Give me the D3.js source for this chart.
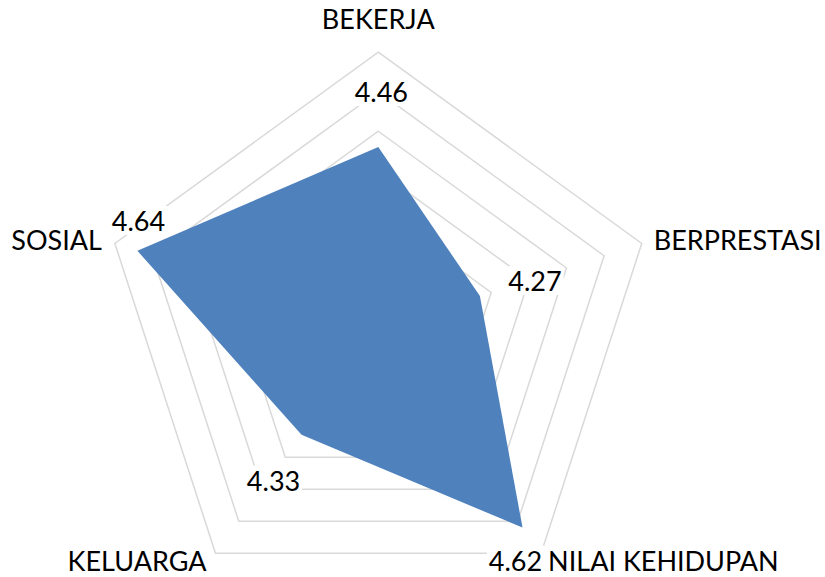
<!DOCTYPE html>
<html>
<head>
<meta charset="utf-8">
<script src="https://cdn.jsdelivr.net/npm/d3@7"></script>
<style>
  body { margin: 0; background: #fff; }
  text { font-family: Lato, "Open Sans", sans-serif; fill: #000; }
</style>
</head>
<body>
<div id="chart"></div>
<script>
// data
const categories = ['BEKERJA', 'BERPRESTASI', 'NILAI KEHIDUPAN', 'KELUARGA', 'SOSIAL'];
const values = [4.46, 4.27, 4.62, 4.33, 4.64];
const axisMin = 4.0;
const axisMax = 4.7;
const axisStep = 0.1;

// layout
const width = 825, height = 577;
const cx = 378.3, cy = 329.1, R = 277;
const fontSize = 27;
// per-label nudges (px) relative to the point they belong to
const valueLabelOffsets = [[3, -45], [55, -5], [-7, 43], [-28, 56], [1, -20]];
const catLabelOffsets = [[0, -23, 'middle'], [12, 6, 'start'], [7, 17.5, 'start'], [-9, 17.5, 'end'], [-13, 6.5, 'end']];

const svg = d3.select('#chart')
    .append('svg')
    .attr('width', width)
    .attr('height', height);

svg.append('rect').attr('width', width).attr('height', height).attr('fill', '#fff');

const g = svg.append('g').attr('transform', `translate(${cx},${cy})`);

const r = d3.scaleLinear().domain([axisMin, axisMax]).range([0, R]);
const angle = d3.scaleLinear().domain([0, categories.length]).range([0, 2 * Math.PI]);

const pt = (i, v) => {
    const a = angle(i);
    return [r(v) * Math.sin(a), -r(v) * Math.cos(a)];
};

// grid rings
const ringValues = d3.range(axisMin + axisStep, axisMax + axisStep / 2, axisStep);
const ringLine = d3.line();
g.selectAll('.ring')
    .data(ringValues)
    .enter()
    .append('path')
    .attr('class', 'ring')
    .attr('d', v => ringLine(categories.map((c, i) => pt(i, v))) + 'Z')
    .style('fill', 'none')
    .style('stroke', '#d9d9d9')
    .style('stroke-width', 1.5);

// series area
g.append('path')
    .datum(values)
    .attr('d', d => ringLine(d.map((v, i) => pt(i, v))) + 'Z')
    .style('fill', '#4f81bd')
    .style('stroke', 'none');

// value labels (white box behind, like the original)
const vl = g.selectAll('.vlabel')
    .data(values)
    .enter()
    .append('g')
    .attr('class', 'vlabel')
    .attr('transform', (v, i) => {
        const p = pt(i, v);
        return `translate(${p[0] + valueLabelOffsets[i][0]},${p[1] + valueLabelOffsets[i][1]})`;
    });

vl.append('text')
    .attr('text-anchor', 'middle')
    .style('font-size', fontSize + 'px')
    .text(d => d3.format('.2f')(d));

vl.each(function () {
    const t = d3.select(this).select('text');
    const b = t.node().getBBox();
    d3.select(this).insert('rect', 'text')
        .attr('x', b.x - 2)
        .attr('y', b.y + 2)
        .attr('width', b.width + 4)
        .attr('height', b.height - 4)
        .attr('fill', '#fff');
});

// category labels
g.selectAll('.clabel')
    .data(categories)
    .enter()
    .append('text')
    .attr('class', 'clabel')
    .attr('x', (c, i) => pt(i, axisMax)[0] + catLabelOffsets[i][0])
    .attr('y', (c, i) => pt(i, axisMax)[1] + catLabelOffsets[i][1])
    .attr('text-anchor', (c, i) => catLabelOffsets[i][2])
    .style('font-size', fontSize + 'px')
    .text(d => d);
</script>
</body>
</html>
